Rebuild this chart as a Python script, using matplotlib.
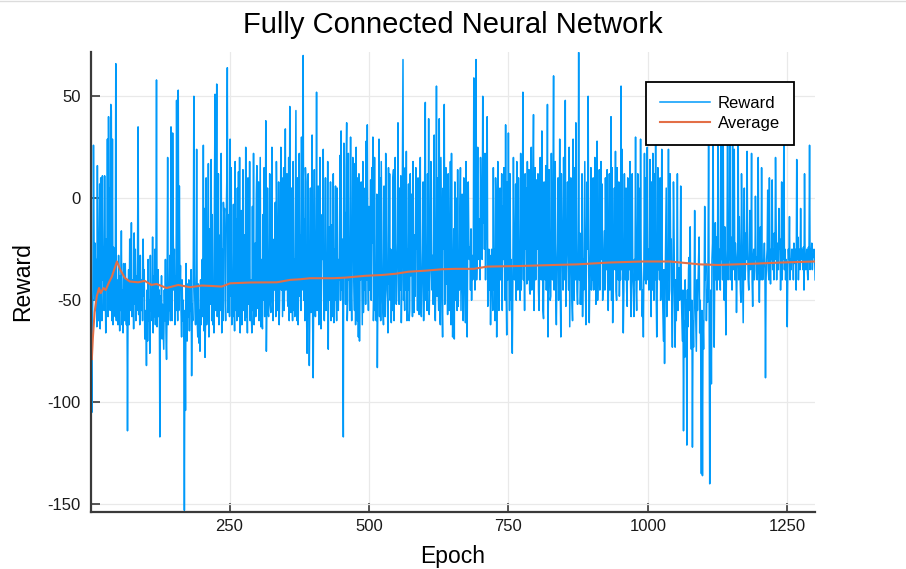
import numpy as np
import matplotlib
matplotlib.use("Agg")
import matplotlib.pyplot as plt
from matplotlib.lines import Line2D

plt.rcParams['font.family'] = ['Liberation Sans', 'DejaVu Sans']
plt.rcParams['axes.unicode_minus'] = False

# Reward per epoch (epochs 1..1300)
reward = [
    -63, -80, -105, -60, -45, 26, -22, -50, -22, -55, -30, -63, 16, -45, -60, -28, 7, -64, 10, -45,
    -60, 11, -40, -24, -55, 11, -35, -66, -20, -45, 29, -58, 40, -30, 5, -55, 46, 43, -60, 29,
    -62, -24, -50, -35, -58, 66, -60, -40, -55, -62, -28, -50, -65, -38, -55, -16, -62, -45, -66, -32,
    -55, -60, -32, -48, -62, -40, -114, -50, -35, -62, -20, -55, -45, -12, -58, -56, -40, -64, -17, -52,
    -25, -60, -38, -55, -30, 35, -57, -45, -62, -28, -50, -55, -40, -60, -20, -48, -35, -69, -60, -55,
    -82, -45, -70, -30, -60, -50, -76, -28, -55, -45, -60, -19, -66, -38, -58, -25, -62, -40, 58, -63,
    -50, -35, -58, -45, -117, -48, -60, -38, -69, -52, -64, -74, -45, -60, -30, -66, -79, -50, 20, -62,
    -42, -55, -28, -60, 35, -48, -60, 32, -17, -45, -25, -62, -38, -55, 48, -42, -60, 53, -55, 6,
    -45, -33, -55, -68, -40, -60, -50, -70, -153, -55, -104, -32, -60, -70, -42, -58, -40, -65, -48, -55,
    -35, -87, -52, -60, -30, 50, -38, -55, -62, -45, 24, -60, -68, -42, -71, -55, -75, -40, -62, -50,
    -30, -58, 26, -65, -5, -78, -58, 10, -62, -50, -40, 17, -68, -15, -33, -52, 19, -60, -8, -62,
    -45, -66, 5, 51, -55, -12, 56, -58, -48, 12, -62, -40, -18, -55, 22, -66, -25, -60, -2, -10,
    -5, -50, -60, -12, 8, 64, -56, -45, -8, -58, 29, -48, 15, -62, -40, -58, -3, -45, -65, 18,
    -55, -10, -60, 5, -42, 13, -58, 20, -66, -50, -6, -62, -50, 14, -55, -45, -18, -60, 25, -58,
    -42, -66, 10, -25, -52, 18, -60, -40, -56, -66, -4, -55, 22, -62, -48, -22, -58, 2, 16, -54,
    -45, 8, -60, -18, 20, -63, -30, -58, -64, -8, -50, 15, -58, -35, 38, -75, -48, 5, -55, -58,
    -40, 12, -52, -56, -38, 25, -50, -60, -35, -20, -45, -2, -58, 18, -10, -55, -52, 8, -62, -45,
    -28, 25, -45, 10, -58, -22, 15, -55, -30, 34, -45, -5, 12, -50, -53, 20, -60, 45, -48, -56,
    5, -45, -60, 18, -55, -30, -58, -12, 43, -52, -60, 10, -62, -40, 22, -48, -18, -55, 30, -45,
    -28, 70, -50, -10, -60, 15, 8, -55, -76, -40, 12, -45, -82, -50, 5, -56, -45, 31, -60, -88,
    -40, 14, -52, -58, -35, 52, -55, -48, 6, -62, -40, 20, -55, -64, -35, -8, -30, 24, -58, -60,
    -40, 10, -55, -45, -48, 18, -74, -14, -50, -40, 8, -60, -13, -35, -58, 12, -61, -25, -50, 6,
    -45, -60, 5, -48, -55, -30, -40, 21, -50, 33, -45, -20, -55, -117, 27, -38, -7, -52, 15, 37,
    -60, -50, 22, -40, -32, -55, 30, -45, -60, -30, 20, 15, -40, -55, 17, -62, 25, -32, -60, 10,
    -68, 12, -70, -25, -40, 8, -28, -62, 18, -56, -30, -45, 5, -52, 28, -40, 36, -30, -55, -4,
    -45, -25, 9, -50, 15, -22, 30, -60, -45, 20, -55, -40, -60, 2, -83, -45, -25, 29, -58, 10,
    -60, 18, -11, -45, -55, -62, 6, -48, -58, 22, -1, -45, -50, -66, 15, -42, 12, -50, -25, -61,
    -38, -55, 10, 14, -60, -25, 20, -30, -52, -35, -22, 37, -50, -52, 5, -45, 11, -61, -40, 12,
    68, -50, -40, -55, 15, -45, 23, -60, -25, -45, 7, -60, -55, 12, -38, 2, -25, -58, 18, -40,
    -56, -18, -48, 15, -25, -14, -55, 10, -42, -57, -35, 20, -55, -58, -40, -25, 8, -60, -40, 16,
    47, -50, -25, -55, 12, -45, 39, -57, -40, -22, 18, -35, -45, -28, -52, 8, 31, -55, -60, -32,
    55, -48, 10, -40, -55, 39, -58, -62, 20, -16, -50, -68, 5, -25, 46, -52, -35, 15, -42, -28,
    -57, 12, -30, -55, -40, 18, -62, 22, -30, -68, -45, -15, -69, 8, -25, -50, 0, -55, 14, -53,
    -30, -45, -7, 15, -55, -28, 2, -45, -60, 10, -27, -40, -61, 18, -45, -68, -25, 8, -20, -30,
    -24, -45, -15, -50, -28, -40, -35, 59, -26, -45, -15, 68, -40, -26, 25, -30, -25, -10, -40, 20,
    -5, -20, -30, 50, -12, 17, -25, 22, -40, -6, -20, 40, -53, -30, -25, -45, -28, -62, -40, -25,
    -38, -55, 15, -45, -25, -60, 10, -4, -68, -25, 18, -24, -55, -32, 5, -40, -25, 12, -55, -4,
    -30, 15, -25, -50, 36, -45, -67, 8, -40, 32, -24, -55, 12, -50, -30, -60, -76, -40, 20, -30,
    -40, -25, 7, -50, 18, -28, -45, 10, -38, -28, -50, 22, -45, -30, -28, 52, -40, -19, -55, 12,
    -25, 5, -42, 18, -20, -40, 14, -45, -47, -30, 25, -45, -25, 10, 41, -55, -30, 15, -40, 9,
    -25, -20, 12, -45, -55, -30, 20, -25, -40, 33, -24, -55, -59, 8, -24, -40, 16, -45, -25, 46,
    -68, -40, 14, -30, -50, -48, 22, -25, -40, 5, 60, -45, -28, 18, -48, -62, -35, -22, 10, -50,
    -30, 29, -45, -68, 12, -18, -30, -45, 20, -35, -40, 48, -53, -30, -19, 8, -30, -45, 25, -63,
    -25, 10, -25, -50, -60, 29, -30, -50, 15, -40, 37, -20, -45, -52, -30, 71.5, -40, -17, -52, -40,
    -52, 12, -58, -30, -45, -11, 18, -40, -62, -30, 8, -25, 50, -35, -61, -40, -24, 15, -45, -34,
    -40, 10, -45, -40, 20, -30, -52, -40, 28, -50, -34, -40, 14, -45, -28, 18, -30, 7, -50, -42,
    -30, -16, -45, 10, -28, -35, 14, -40, -55, -30, 12, -45, -25, 40, -50, 15, -61, -30, -25, 5,
    -35, 23, -45, -50, 15, -24, -40, 8, -48, -30, -40, 55, -35, 24, -40, -66, -45, 12, -30, -40,
    5, -45, -53, 10, -40, -4, -35, 18, -40, -58, -30, 12, -38, -45, -58, -30, -40, 30, -45, -55,
    -30, 12, -40, 5, -20, -45, 29, -30, -40, -58, -45, -68, -30, 22, -40, 10, -42, -30, 25, -40,
    -25, -45, -35, 19, -40, -58, 8, -45, 22, -35, -50, 12, -40, 35, -45, -68, -40, 15, -35, -15,
    -40, 10, -50, -30, 24, -40, -55, -70, -35, -81, -45, -22, 5, -58, -30, -40, 24, -50, -45, 12,
    -30, -20, -55, -73, -45, 8, -17, -50, -73, -40, -60, -42, 12, -55, -40, -34, -50, -40, 6, -45,
    -58, -70, -45, -114, -60, -78, -40, -58, -50, -121, -45, -63, -35, -29, -55, -14, -60, -74, -50, -122,
    -60, -73, -50, -6, -45, -60, -75, -40, -55, -42, -30, -19, -66, -50, -80, -135, -55, -136, -60, -74,
    -45, -4, -40, -32, -60, -45, -51, -30, 30, -55, -140, -70, -45, -91, -30, -22, 38, -40, -73, -35,
    -12, -40, -19, -45, -30, 50, -40, -25, -35, -45, 40, -30, -16, -40, 45, -30, -50, -14, -40, -67,
    -35, -25, 35, -40, -25, -30, 42, -40, -19, -30, -45, 30, -25, -35, 24, -40, -22, -30, -56, -35,
    -25, 35, -40, -9, -30, -45, -51, 12, -17, -40, -61, -30, 5, -40, -35, -17, -30, 23, -25, -40,
    -45, -30, -6, -35, -25, 22, -40, -53, -30, -25, -40, -35, 1, -30, -29, -40, -30, 20, -35, -51,
    -30, -14, -40, 15, -29, -40, -34, -30, -22, -35, -88, -40, -30, -25, 4, -35, -40, 10, -30, -42,
    -25, -30, 9, -35, -25, -40, -17, -30, 20, -9, -40, -22, -30, -35, -5, -25, -20, -45, -30, 8,
    -40, -19, -30, 40, -35, -25, -40, -30, -33, -63, -35, -25, -30, -9, -40, -30, -35, -25, -30, -25,
    -40, -22, -30, -32, -25, -45, 19, -30, -19, -40, -30, -25, -35, -5, -30, -25, -29, -35, -24, -45,
    12, -30, -35, -32, -25, -35, -40, -24, -30, 26, -35, -25, -30, -22, -35, -28, -29, -25, -27, -40,
]

# Running average at these epochs
avg_epochs = [1, 3, 5, 8, 12, 16, 19, 24, 28, 33, 39, 45, 48, 54, 62, 71, 86, 98,
              110, 119, 137, 158, 179, 200, 218, 236, 251, 287, 335, 359, 377, 394,
              436, 458, 494, 524, 548, 571, 601, 631, 655, 688, 712, 772, 832, 874,
              931, 991, 1039, 1074, 1092, 1126, 1180, 1239, 1300]
avg_values = [-64, -79, -68, -56, -48, -44, -46.5, -44, -45, -41.7, -38.4, -33.5, -31,
              -35, -39, -40.8, -41.2, -40.5, -42.5, -42, -44, -42.5, -43.6, -42.8, -43,
              -43.3, -41.7, -41.3, -41.2, -40, -39.7, -39.2, -39.2, -38.9, -38, -37.6,
              -37, -36, -35.5, -34.8, -34.6, -34.6, -33.5, -33.2, -32.7, -32.4, -31.5,
              -31, -31, -31.9, -32.4, -32.7, -32.2, -31.5, -31]

x_ticks = [250, 500, 750, 1000, 1250]
y_ticks = [-150, -100, -50, 0, 50]

epochs = np.arange(1, len(reward) + 1)

fig = plt.figure(figsize=(9.06, 5.69), dpi=100)
ax = fig.add_axes([0.1001, 0.1002, 0.7996, 0.8084])

ax.plot(epochs, reward, color='#009AFA', lw=1.1, label='Reward')
ax.plot(avg_epochs, avg_values, color='#E36F47', lw=1.5, label='Average')

ax.set_xlim(1, 1300)
ax.set_ylim(-153.8, 71.7)
ax.set_xticks(x_ticks)
ax.set_yticks(y_ticks)
ax.grid(True, color='#e9e9e9', lw=0.9)
ax.set_axisbelow(True)
for s in ['top', 'right']:
    ax.spines[s].set_visible(False)
for s in ['left', 'bottom']:
    ax.spines[s].set_linewidth(1.6)
    ax.spines[s].set_color('#3a3a3a')
ax.tick_params(direction='in', length=6.5, width=1.2, color='#3a3a3a',
               labelsize=12, labelcolor='#1a1a1a')
ax.tick_params(axis='y', pad=7)
ax.tick_params(axis='x', pad=5)

ax.set_title('Fully Connected Neural Network', fontsize=21, pad=14)
ax.set_xlabel('Epoch', fontsize=16.5, labelpad=8)
ax.set_ylabel('Reward', fontsize=16.5, labelpad=10)

leg = ax.legend(loc='upper left', bbox_to_anchor=(0.7664, 0.798, 0.2042, 0.1374),
                mode='expand', borderaxespad=0, frameon=True, fancybox=False,
                edgecolor='black', framealpha=1, fontsize=12, handlelength=3.0,
                handletextpad=0.45, labelspacing=0.3, borderpad=0.85)
leg.get_frame().set_linewidth(1.3)

# thin light border line along the top edge of the picture
fig.add_artist(Line2D([0, 1], [0.999, 0.999], transform=fig.transFigure,
                      color='#dcdcdc', lw=1.0))

fig.savefig('out.png', dpi=100)
